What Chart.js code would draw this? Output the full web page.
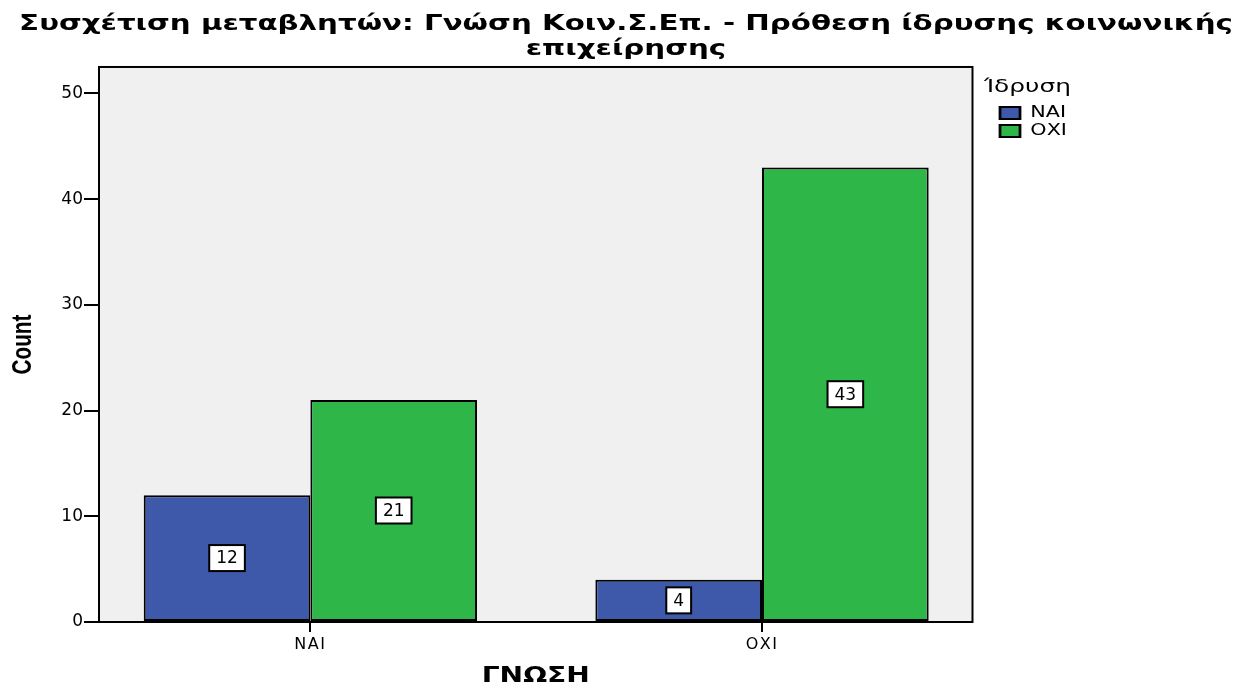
<!DOCTYPE html>
<html>
<head>
<meta charset="utf-8">
<script src="https://cdn.jsdelivr.net/npm/chart.js@4/dist/chart.umd.min.js"></script>
<style>
	html, body { margin: 0; padding: 0; background: #fff; }
	#wrap { width: 1255px; height: 687px; }
</style>
</head>
<body>
<div id="wrap"><canvas id="chart"></canvas></div>
<script>
// data
const categories = ['ΝΑΙ', 'ΟΧΙ'];
const seriesNames = ['ΝΑΙ', 'ΟΧΙ'];
const naiValues = [12, 4];
const oxiValues = [21, 43];
const yTicks = [0, 10, 20, 30, 40, 50];

const toPoints = (vals) => vals.map((v, i) => ({ x: i, y: v }));

// the original picture is stretched sideways, so text is widened too
const SX = 1.38;

// grey plot area and black frame
const frame = {
	id: 'frame',
	beforeDatasetsDraw(chart) {
		const { ctx, chartArea: a } = chart;
		ctx.save();
		ctx.fillStyle = '#f0f0f0';
		ctx.fillRect(a.left, a.top, a.width, a.height);
		ctx.strokeStyle = '#000';
		ctx.lineWidth = 2;
		ctx.strokeRect(a.left, a.top, a.width, a.height);
		ctx.restore();
	},
};

// white boxed value labels in the middle of each bar
const boxLabels = {
	id: 'boxLabels',
	afterDatasetsDraw(chart) {
		const ctx = chart.ctx;
		ctx.save();
		ctx.font = '17px "DejaVu Sans", sans-serif';
		ctx.textAlign = 'center';
		ctx.textBaseline = 'middle';
		chart.data.datasets.forEach((ds, di) => {
			chart.getDatasetMeta(di).data.forEach((bar, i) => {
				const txt = String(ds.data[i].y);
				const cy = (bar.y + bar.base) / 2;
				const w = ctx.measureText(txt).width + 14;
				const h = 26;
				ctx.fillStyle = '#fff';
				ctx.fillRect(bar.x - w / 2, cy - h / 2, w, h);
				ctx.strokeStyle = '#000';
				ctx.lineWidth = 2;
				ctx.strokeRect(bar.x - w / 2, cy - h / 2, w, h);
				ctx.fillStyle = '#000';
				ctx.fillText(txt, bar.x, cy + 1);
			});
		});
		ctx.restore();
	},
};

// widen the texts like the reference
const stretchText = {
	id: 'stretchText',
	afterLayout(chart) {
		const t = chart.titleBlock;
		if (t && !t._wide) {
			const orig = t.draw.bind(t);
			t.draw = function () {
				const c = this.ctx;
				const cx = (this.left + this.right) / 2;
				c.save();
				c.translate(626, 0);
				c.scale(1.395, 1);
				c.translate(-cx, 0);
				orig();
				c.restore();
			};
			t._wide = true;
		}
		const lg = chart.legend;
		if (lg && !lg._wide) {
			const origTitle = lg.drawTitle.bind(lg);
			lg.draw = function () {
				if (!this.options.display) return;
				const c = this.ctx;
				const pad = this.options.labels.padding;
				c.save();
				c.translate(1000 - pad * SX, 0);
				c.scale(SX, 1);
				c.translate(-this.left, 0);
				this._draw();
				c.restore();
			};
			lg.drawTitle = function () {
				const c = this.ctx;
				const pad = this.options.labels.padding;
				c.save();
				c.translate(-(15 / SX - pad), 0);
				origTitle();
				c.restore();
			};
			lg._wide = true;
		}
		const x = chart.scales.x;
		if (x && !x._wide) {
			const origT = x.drawTitle.bind(x);
			x.drawTitle = function () {
				const c = this.ctx;
				const cx = (this.left + this.right) / 2;
				c.save();
				c.translate(cx, 0);
				c.scale(1.34, 1);
				c.translate(-cx, 0);
				origT();
				c.restore();
			};
			const origL = x.drawLabels.bind(x);
			x.drawLabels = function (area) {
				this.ctx.save();
				this.ctx.letterSpacing = '1.5px';
				origL(area);
				this.ctx.restore();
			};
			x._wide = true;
		}
		const y = chart.scales.y;
		if (y && !y._wide) {
			const origT = y.drawTitle.bind(y);
			y.drawTitle = function () {
				const c = this.ctx;
				const cy = (this.top + this.bottom) / 2;
				c.save();
				c.translate(0, cy);
				c.scale(1, 0.74);
				c.translate(0, -cy);
				origT();
				c.restore();
			};
			y._wide = true;
		}
	},
};

const ctx = document.getElementById('chart').getContext('2d');
new Chart(ctx, {
	type: 'bar',
	data: {
		datasets: [
			{
				label: seriesNames[0],
				data: toPoints(naiValues),
				backgroundColor: '#3e58aa',
				borderColor: '#000',
				borderWidth: 2,
				borderSkipped: false,
			},
			{
				label: seriesNames[1],
				data: toPoints(oxiValues),
				backgroundColor: '#2eb748',
				borderColor: '#000',
				borderWidth: 2,
				borderSkipped: false,
			},
		],
	},
	options: {
		responsive: true,
		maintainAspectRatio: false,
		animation: false,
		categoryPercentage: 0.738,
		barPercentage: 1,
		layout: { padding: { left: 0, right: 221, top: 0, bottom: 0 } },
		plugins: {
			title: {
				display: true,
				text: ['Συσχέτιση μεταβλητών: Γνώση Κοιν.Σ.Επ. - Πρόθεση ίδρυσης κοινωνικής', 'επιχείρησης'],
				color: '#000',
				font: { family: '"DejaVu Sans", sans-serif', size: 21, weight: 'bold', lineHeight: 1.19 },
				padding: { top: 12, bottom: 5 },
			},
			legend: {
				position: 'right',
				align: 'start',
				fullSize: false,
				title: {
					display: true,
					text: 'Ίδρυση',
					color: '#000',
					font: { family: '"DejaVu Sans", sans-serif', size: 18, lineHeight: 1.2 },
					padding: { top: 11, bottom: 3 },
				},
				labels: {
					boxWidth: 14.5,
					boxHeight: 12,
					padding: 3,
					color: '#000',
					font: { family: '"DejaVu Sans", sans-serif', size: 15 },
				},
			},
			tooltip: { enabled: false },
		},
		scales: {
			x: {
				type: 'linear',
				offset: false,
				min: -0.468,
				max: 1.466,
				afterBuildTicks: (axis) => {
					axis.ticks = categories.map((c, i) => ({ value: i }));
				},
				afterFit: (axis) => {
					axis.height = 65;
				},
				border: { display: false },
				grid: { drawOnChartArea: false, drawTicks: true, tickLength: 10, color: '#000', lineWidth: 2, offset: false },
				ticks: {
					padding: 3,
					color: '#000',
					font: { family: '"DejaVu Sans", sans-serif', size: 16 },
					callback: (v) => categories[v],
				},
				title: {
					display: true,
					text: 'ΓΝΩΣΗ',
					color: '#000',
					font: { family: '"DejaVu Sans", sans-serif', size: 21, weight: 'bold', lineHeight: 0.95 },
					padding: { top: 0, bottom: 0 },
				},
			},
			y: {
				min: 0,
				max: 52.5,
				afterBuildTicks: (axis) => {
					axis.ticks = yTicks.map((v) => ({ value: v }));
				},
				afterFit: (axis) => {
					axis.width = 99;
				},
				border: { display: false },
				grid: { drawOnChartArea: false, drawTicks: true, tickLength: 15, color: '#000', lineWidth: 2 },
				ticks: {
					padding: 1,
					color: '#000',
					font: { family: '"DejaVu Sans", sans-serif', size: 17 },
				},
				title: {
					display: true,
					text: 'Count',
					color: '#000',
					font: { family: '"Liberation Sans", sans-serif', size: 28, weight: 'bold', lineHeight: 1.2 },
					padding: { top: 6, bottom: 0 },
				},
			},
		},
	},
	plugins: [frame, boxLabels, stretchText],
});
</script>
</body>
</html>
